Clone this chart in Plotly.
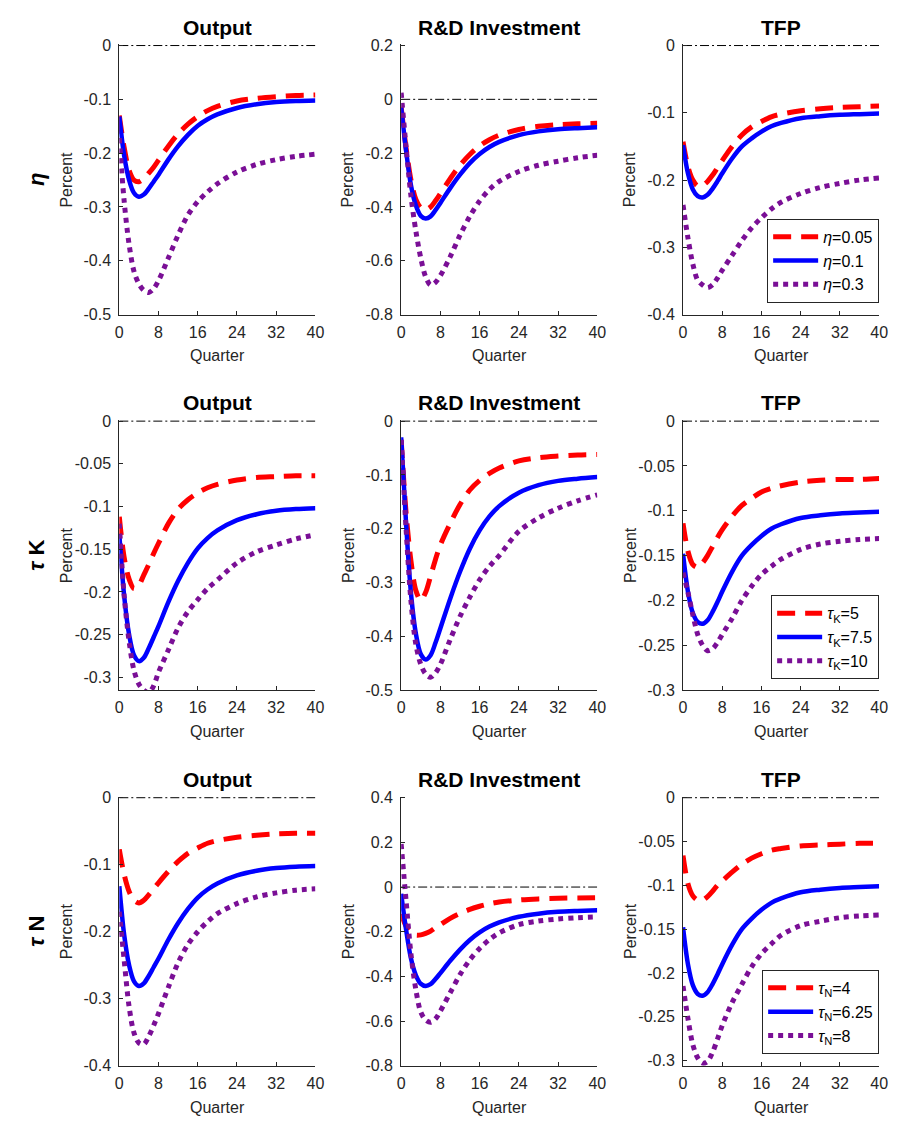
import plotly.graph_objects as go

W, H = 898, 1128

Q = [0, 1, 2, 3, 4, 5, 6, 7, 8, 10, 12, 14, 16, 18, 20, 24, 28, 32, 36, 40]

# Baseline (blue) responses, identical in every row
out_base = [-0.132, -0.205, -0.25, -0.274, -0.281, -0.277, -0.266, -0.253, -0.24, -0.212, -0.187, -0.166, -0.149, -0.137, -0.128, -0.116, -0.109, -0.105, -0.103, -0.102]
rd_base = [-0.03, -0.19, -0.32, -0.395, -0.433, -0.443, -0.435, -0.412, -0.385, -0.33, -0.28, -0.237, -0.203, -0.177, -0.158, -0.133, -0.119, -0.111, -0.107, -0.104]
tfp_base = [-0.148, -0.19, -0.214, -0.224, -0.226, -0.222, -0.213, -0.202, -0.19, -0.168, -0.15, -0.138, -0.128, -0.12, -0.115, -0.108, -0.105, -0.103, -0.102, -0.101]

# Row 1: eta
out_eta_lo = [-0.13, -0.19, -0.232, -0.25, -0.253, -0.247, -0.237, -0.226, -0.213, -0.187, -0.164, -0.146, -0.132, -0.121, -0.113, -0.103, -0.098, -0.095, -0.093, -0.092]
out_eta_hi = [-0.172, -0.29, -0.37, -0.42, -0.443, -0.455, -0.459, -0.452, -0.437, -0.395, -0.352, -0.315, -0.29, -0.272, -0.257, -0.235, -0.221, -0.212, -0.206, -0.202]
rd_eta_lo = [-0.03, -0.18, -0.3, -0.372, -0.403, -0.41, -0.4, -0.377, -0.35, -0.295, -0.245, -0.205, -0.173, -0.15, -0.133, -0.112, -0.1, -0.094, -0.091, -0.089]
rd_eta_hi = [0.025, -0.176, -0.36, -0.49, -0.59, -0.66, -0.69, -0.68, -0.655, -0.585, -0.505, -0.435, -0.378, -0.335, -0.305, -0.268, -0.245, -0.23, -0.217, -0.208]
tfp_eta_lo = [-0.143, -0.18, -0.2, -0.209, -0.208, -0.202, -0.193, -0.182, -0.171, -0.15, -0.133, -0.121, -0.113, -0.106, -0.102, -0.097, -0.094, -0.092, -0.091, -0.09]
tfp_eta_hi = [-0.237, -0.286, -0.325, -0.349, -0.356, -0.36, -0.356, -0.346, -0.334, -0.312, -0.29, -0.271, -0.256, -0.243, -0.233, -0.22, -0.211, -0.205, -0.2, -0.197]

# Row 2: tau K
out_tk_lo = [-0.112, -0.16, -0.185, -0.196, -0.192, -0.18, -0.168, -0.155, -0.143, -0.12, -0.103, -0.092, -0.084, -0.078, -0.074, -0.069, -0.066, -0.065, -0.064, -0.064]
out_tk_hi = [-0.12, -0.205, -0.258, -0.292, -0.308, -0.315, -0.318, -0.31, -0.294, -0.268, -0.242, -0.223, -0.209, -0.196, -0.186, -0.166, -0.153, -0.145, -0.138, -0.133]
rd_tk_lo = [-0.035, -0.17, -0.26, -0.315, -0.333, -0.318, -0.288, -0.257, -0.23, -0.19, -0.155, -0.128, -0.11, -0.097, -0.087, -0.074, -0.068, -0.065, -0.063, -0.062]
rd_tk_hi = [-0.035, -0.2, -0.335, -0.415, -0.452, -0.47, -0.476, -0.468, -0.452, -0.406, -0.363, -0.327, -0.295, -0.27, -0.25, -0.205, -0.18, -0.162, -0.148, -0.137]
tfp_tk_lo = [-0.114, -0.145, -0.16, -0.163, -0.158, -0.15, -0.14, -0.13, -0.121, -0.106, -0.094, -0.086, -0.079, -0.075, -0.072, -0.068, -0.066, -0.065, -0.065, -0.064]
tfp_tk_hi = [-0.169, -0.191, -0.216, -0.238, -0.25, -0.256, -0.254, -0.247, -0.238, -0.22, -0.2, -0.184, -0.171, -0.162, -0.154, -0.143, -0.137, -0.134, -0.132, -0.131]

# Row 3: tau N
out_tn_lo = [-0.077, -0.115, -0.14, -0.153, -0.157, -0.153, -0.145, -0.136, -0.127, -0.11, -0.095, -0.083, -0.075, -0.068, -0.064, -0.059, -0.056, -0.054, -0.053, -0.053]
out_tn_hi = [-0.17, -0.243, -0.312, -0.351, -0.366, -0.368, -0.356, -0.34, -0.322, -0.283, -0.246, -0.219, -0.2, -0.185, -0.173, -0.158, -0.148, -0.142, -0.138, -0.136]
rd_tn_lo = [-0.12, -0.175, -0.205, -0.215, -0.214, -0.207, -0.197, -0.182, -0.168, -0.14, -0.118, -0.1, -0.086, -0.075, -0.067, -0.058, -0.053, -0.05, -0.049, -0.048]
rd_tn_hi = [0.193, -0.06, -0.3, -0.46, -0.56, -0.595, -0.605, -0.59, -0.555, -0.473, -0.392, -0.326, -0.275, -0.235, -0.205, -0.168, -0.152, -0.143, -0.137, -0.133]
tfp_tn_lo = [-0.066, -0.098, -0.112, -0.117, -0.117, -0.113, -0.107, -0.1, -0.095, -0.085, -0.076, -0.069, -0.064, -0.06, -0.058, -0.055, -0.054, -0.053, -0.052, -0.052]
tfp_tn_hi = [-0.215, -0.252, -0.282, -0.297, -0.303, -0.301, -0.291, -0.276, -0.26, -0.234, -0.213, -0.193, -0.178, -0.167, -0.157, -0.146, -0.141, -0.137, -0.135, -0.134]

# Axis ticks / ranges
x_ticks = [0, 8, 16, 24, 32, 40]
yt_out1 = [0, -0.1, -0.2, -0.3, -0.4, -0.5]
yt_rd1 = [0.2, 0, -0.2, -0.4, -0.6, -0.8]
yt_tfp1 = [0, -0.1, -0.2, -0.3, -0.4]
yt_out2 = [0, -0.05, -0.1, -0.15, -0.2, -0.25, -0.3]
yt_rd2 = [0, -0.1, -0.2, -0.3, -0.4, -0.5]
yt_tfp2 = [0, -0.05, -0.1, -0.15, -0.2, -0.25, -0.3]
yt_out3 = [0, -0.1, -0.2, -0.3, -0.4]
yt_rd3 = [0.4, 0.2, 0, -0.2, -0.4, -0.6, -0.8]
yt_tfp3 = [0, -0.05, -0.1, -0.15, -0.2, -0.25, -0.3]

yr_out1, yr_rd1, yr_tfp1 = [-0.5, 0], [-0.8, 0.2], [-0.4, 0]
yr_out2, yr_rd2, yr_tfp2 = [-0.315, 0], [-0.5, 0], [-0.3, 0]
yr_out3, yr_rd3, yr_tfp3 = [-0.4, 0], [-0.8, 0.4], [-0.306, 0]

titles = ["Output", "R&D Investment", "TFP"]
row_labels = ["<b><i>η</i></b>", "<b><i>τ</i> K</b>", "<b><i>τ</i> N</b>"]
legend_names = [
    ["<i>η</i>=0.05", "<i>η</i>=0.1", "<i>η</i>=0.3"],
    ["<i>τ</i><sub>K</sub>=5", "<i>τ</i><sub>K</sub>=7.5", "<i>τ</i><sub>K</sub>=10"],
    ["<i>τ</i><sub>N</sub>=4", "<i>τ</i><sub>N</sub>=6.25", "<i>τ</i><sub>N</sub>=8"],
]

panels = [
    [(out_eta_lo, out_base, out_eta_hi, yr_out1, yt_out1),
     (rd_eta_lo, rd_base, rd_eta_hi, yr_rd1, yt_rd1),
     (tfp_eta_lo, tfp_base, tfp_eta_hi, yr_tfp1, yt_tfp1)],
    [(out_tk_lo, out_base, out_tk_hi, yr_out2, yt_out2),
     (rd_tk_lo, rd_base, rd_tk_hi, yr_rd2, yt_rd2),
     (tfp_tk_lo, tfp_base, tfp_tk_hi, yr_tfp2, yt_tfp2)],
    [(out_tn_lo, out_base, out_tn_hi, yr_out3, yt_out3),
     (rd_tn_lo, rd_base, rd_tn_hi, yr_rd3, yt_rd3),
     (tfp_tn_lo, tfp_base, tfp_tn_hi, yr_tfp3, yt_tfp3)],
]

# Layout geometry in pixels
col_px = [(117, 316), (403, 602), (689, 888)]
row_px = [(38, 312), (419, 693), (801, 1074)]
legend_bottom_px = [300, 682, 1062]

FONT = "Liberation Sans, Arial, Helvetica, sans-serif"
AXC = "#262626"
RED, BLUE, PURPLE = "#ff0000", "#0000ff", "#7a0f96"


def px_x(p):
    return p / W


def px_y(p):
    return 1 - p / H


def fmt(v):
    s = f"{v:g}"
    return "0" if s in ("-0", "0") else s


fig = go.Figure()
annotations = []
layout_axes = {}

for r in range(3):
    for c in range(3):
        n = r * 3 + c + 1
        sfx = "" if n == 1 else str(n)
        lo, base, hi, yr, yt = panels[r][c]
        lg = "legend" if r == 0 else f"legend{r + 1}"
        show = (c == 2)
        eps = (yr[1] - yr[0]) * 0.004
        # zero reference line
        fig.add_trace(go.Scatter(
            x=[0, 40], y=[0, 0], mode="lines", xaxis="x" + sfx, yaxis="y" + sfx,
            line=dict(color="black", width=1, dash="9px,3px,2px,3px"),
            showlegend=False, hoverinfo="skip"))
        specs = [(lo, RED, 5, "18px,10px", 0),
                 (base, BLUE, 4.5, "solid", 1),
                 (hi, PURPLE, 5, "5px,5px", 2)]
        for vals, col, wdt, dash, k in specs:
            fig.add_trace(go.Scatter(
                x=Q, y=vals, mode="lines", xaxis="x" + sfx, yaxis="y" + sfx,
                line=dict(color=col, width=wdt, dash=dash, shape="spline", smoothing=0.9),
                name=legend_names[r][k], legend=lg, showlegend=show))
        x0, x1 = col_px[c]
        y0, y1 = row_px[r]
        layout_axes["xaxis" + sfx] = dict(
            domain=[px_x(x0), px_x(x1)], anchor="y" + sfx, range=[0, 40],
            tickvals=x_ticks, ticktext=[str(t) for t in x_ticks],
            ticks="inside", ticklen=4, tickcolor=AXC, showline=True, linecolor=AXC,
            linewidth=1, showgrid=False, zeroline=False,
            tickfont=dict(family=FONT, size=16, color=AXC), ticklabelstandoff=3)
        layout_axes["yaxis" + sfx] = dict(
            domain=[px_y(y1), px_y(y0)], anchor="x" + sfx, range=[yr[0], yr[1] + eps],
            tickvals=yt, ticktext=[fmt(t) for t in yt],
            ticks="inside", ticklen=4, tickcolor=AXC, showline=True, linecolor=AXC,
            linewidth=1, showgrid=False, zeroline=False,
            tickfont=dict(family=FONT, size=16, color=AXC), ticklabelstandoff=4)
        xc = (x0 + x1) / 2
        yc = (y0 + y1) / 2
        annotations.append(dict(text="<b>" + titles[c] + "</b>", x=px_x(xc), y=px_y(y0 - 4),
                                xref="paper", yref="paper", xanchor="center", yanchor="bottom",
                                showarrow=False, font=dict(family=FONT, size=21, color="black")))
        annotations.append(dict(text="Quarter", x=px_x(xc), y=px_y(y1 + 42),
                                xref="paper", yref="paper", xanchor="center", yanchor="middle",
                                showarrow=False, font=dict(family=FONT, size=16, color=AXC)))
        annotations.append(dict(text="Percent", x=px_x(x0 - 54), y=px_y(yc),
                                xref="paper", yref="paper", xanchor="center", yanchor="middle",
                                textangle=-90, showarrow=False,
                                font=dict(family=FONT, size=16, color=AXC)))
    annotations.append(dict(text=row_labels[r], x=px_x(33), y=px_y((row_px[r][0] + row_px[r][1]) / 2),
                            xref="paper", yref="paper", xanchor="center", yanchor="middle",
                            textangle=-90, showarrow=False,
                            font=dict(family=FONT, size=22, color="black")))

legends = {}
for r in range(3):
    key = "legend" if r == 0 else f"legend{r + 1}"
    legends[key] = dict(
        x=px_x(888), y=px_y(legend_bottom_px[r]), xanchor="right", yanchor="bottom",
        xref="paper", yref="paper",
        bgcolor="white", bordercolor=AXC, borderwidth=1,
        font=dict(family=FONT, size=16, color="black"),
        itemwidth=45, tracegroupgap=0)

fig.update_layout(
    width=W, height=H, margin=dict(l=0, r=0, t=0, b=0),
    paper_bgcolor="white", plot_bgcolor="white",
    annotations=annotations, **layout_axes, **legends)

fig.write_html("out.html")
